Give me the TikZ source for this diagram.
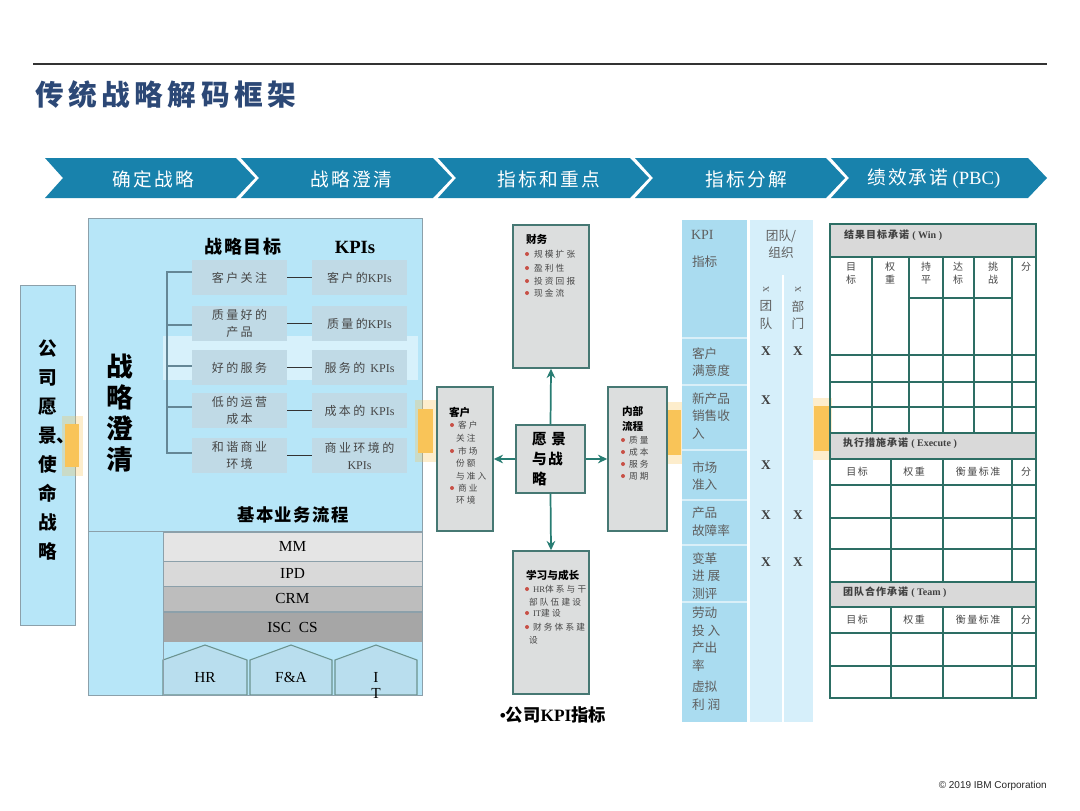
\documentclass[tikz,border=0pt]{standalone}
\usepackage{fontspec}
\setmainfont{Liberation Serif}
\newfontfamily\cjk{Noto Sans CJK SC}
\newfontfamily\sansf{Liberation Sans}
\usetikzlibrary{arrows.meta}
\definecolor{titlec}{RGB}{44,72,118}
\definecolor{chevc}{RGB}{24,130,172}
\definecolor{panelc}{RGB}{183,230,248}
\definecolor{rowc}{RGB}{192,218,230}
\definecolor{grayb}{RGB}{140,160,170}
\definecolor{orangec}{RGB}{249,196,88}
\definecolor{boxg}{RGB}{220,222,222}
\definecolor{tealb}{RGB}{70,120,115}
\definecolor{arrc}{RGB}{40,125,115}
\definecolor{dotc}{RGB}{200,80,70}
\definecolor{kpil}{RGB}{170,220,240}
\definecolor{kpir}{RGB}{214,239,250}
\definecolor{hdrc}{RGB}{217,217,217}
\definecolor{gridc}{RGB}{45,110,100}
\definecolor{housec}{RGB}{185,222,238}
\definecolor{txtg}{RGB}{70,70,70}
\definecolor{kpit}{RGB}{95,95,95}
\definecolor{brkc}{RGB}{100,135,150}
\newcommand\rowf{\cjk\fontsize{9}{12.75}\selectfont\addfontfeature{LetterSpace=20}}
\newcommand\bulf{\cjk\fontsize{6.5}{9.75}\selectfont\addfontfeature{LetterSpace=25}}
\newcommand\mtitf{\cjk\bfseries\fontsize{8}{11}\selectfont}
\newcommand\kpif{\cjk\fontsize{9.5}{13.2}\selectfont}
\newcommand\pbcf{\cjk\fontsize{7.5}{9.75}\selectfont\addfontfeature{LetterSpace=15}}
\begin{document}
\begin{tikzpicture}[x=0.75pt,y=-0.75pt,
  t/.style={inner sep=0pt,outer sep=0pt,align=center},
  tl/.style={inner sep=0pt,outer sep=0pt,align=left,anchor=west},
  chev/.style={fill=chevc},
  rowb/.style={fill=rowc,minimum width=71.25pt,minimum height=26.25pt,inner sep=0pt,align=center,font=\rowf,text=txtg},
  conn/.style={draw=black!80,line width=1pt},
  brk/.style={draw=brkc,line width=0.8pt},
  mbox/.style={draw=tealb,line width=1.1pt,fill=boxg,inner sep=0pt},
  arr/.style={draw=arrc,line width=1.3pt,-{Stealth[length=7pt,width=6.5pt]}},
  bar/.style={draw=grayb,line width=0.6pt,minimum width=194.25pt,inner sep=0pt,font=\fontsize{11.5}{13}\selectfont},
  house/.style={fill=housec,draw=tealb!80,line width=0.8pt},
  dot/.style={circle,fill=dotc,inner sep=0pt,minimum size=3pt},
  grid/.style={draw=gridc,line width=1.1pt},
  otab/.style={fill=orangec},
  oglow/.style={fill=orangec,opacity=0.3}
]
\useasboundingbox (0,0) rectangle (1080,810);
\fill[white] (0,0) rectangle (1080,810);

% top rule and title
\draw[line width=0.9pt,black!80] (33,64) -- (1047,64);
\node[tl,font={\cjk\bfseries\fontsize{21.5}{25}\selectfont\addfontfeature{LetterSpace=16}},text=titlec] (title) at (35,95) {传统战略解码框架};

% chevron banner
\foreach \s/\e in {45/236,241/433,438/630,635/826,831/1028}{
  \fill[chev] (\s,158) -- (\e,158) -- (\e+19,178) -- (\e,198) -- (\s,198) -- (\s+18,178) -- cycle;
}
\node[t,font={\cjk\fontsize{14}{16}\selectfont\addfontfeature{LetterSpace=12}},text=white] (c1) at (153,179) {确定战略};
\node[t,font={\cjk\fontsize{14}{16}\selectfont\addfontfeature{LetterSpace=12}},text=white] (c2) at (351,179) {战略澄清};
\node[t,font={\cjk\fontsize{14}{16}\selectfont\addfontfeature{LetterSpace=12}},text=white] (c3) at (549,179) {指标和重点};
\node[t,font={\cjk\fontsize{14}{16}\selectfont\addfontfeature{LetterSpace=12}},text=white] (c4) at (746,179) {指标分解};
\node[t,font={\fontsize{14}{16}\selectfont},text=white] (c5) at (934,179) {{\cjk\addfontfeature{LetterSpace=10}绩效承诺} (PBC)};

% left vertical box
\node[draw=grayb,fill=panelc,minimum width=41.25pt,minimum height=255pt,inner sep=0pt] (vbox) at (47.5,455) {};
\node[t,font={\cjk\bfseries\fontsize{14}{21.8}\selectfont}] (vtext) at (47.5,450) {公\\司\\愿\\景\rlap{、}\\使\\命\\战\\略};
\fill[oglow] (62,416) rectangle (83,476);
\fill[otab] (65,424) rectangle (79,467);

% main left panel
\node[draw=grayb,fill=panelc,minimum width=250.5pt,minimum height=357.75pt,inner sep=0pt] (panel) at (255,456.5) {};
\draw[grayb,line width=0.7pt] (88,531) -- (422,531);
\fill[white,opacity=0.45] (163,336) rectangle (418,380);
\node[t,font={\cjk\bfseries\fontsize{20}{23.25}\selectfont}] (zlcq) at (120,413) {战\\略\\澄\\清};
\node[t,font={\cjk\bfseries\fontsize{13.5}{16}\selectfont\addfontfeature{LetterSpace=10}}] (hgoal) at (243,247) {战略目标};
\node[t,font={\bfseries\fontsize{14}{16}\selectfont}] (hkpi) at (355,247) {KPIs};

\node[rowb] (l1) at (239.5,277.5) {客户关注};
\node[rowb] (l2) at (239.5,323.5) {质量好的\\产品};
\node[rowb] (l3) at (239.5,367.5) {好的服务};
\node[rowb] (l4) at (239.5,410.5) {低的运营\\成本};
\node[rowb] (l5) at (239.5,455.5) {和谐商业\\环境};
\node[rowb] (r1) at (359.5,277.5) {客户的{\rmfamily KPIs}};
\node[rowb] (r2) at (359.5,323.5) {质量的{\rmfamily KPIs}};
\node[rowb] (r3) at (359.5,367.5) {服务的 {\rmfamily KPIs}};
\node[rowb] (r4) at (359.5,410.5) {成本的 {\rmfamily KPIs}};
\node[rowb] (r5) at (359.5,455.5) {商业环境的\\{\rmfamily KPIs}};
\foreach \i in {1,...,5}{\draw[conn] (l\i) -- (r\i);}
\draw[brk] (192,272) -- (167,272) -- (167,453) -- (192,453);
\foreach \yy in {325,366,407}{\draw[brk] (167,\yy) -- (192,\yy);}

\node[t,font={\cjk\bfseries\fontsize{13}{16}\selectfont\addfontfeature{LetterSpace=8}}] (jbyw) at (293,515) {基本业务流程};
\node[bar,fill=black!10,minimum height=21.75pt] (mm) at (292.5,546.5) {MM};
\node[bar,fill=black!15,minimum height=18.75pt] (ipd) at (292.5,573.5) {IPD};
\node[bar,fill=black!26,minimum height=18.75pt] (crm) at (292.5,598.5) {CRM};
\node[bar,fill=black!35,minimum height=22.5pt] (isc) at (292.5,627) {ISC\ \ CS};
\fill[panelc] (163,642) rectangle (422,695);
\draw[house] (163,695) -- (163,660) -- (205,645) -- (247,660) -- (247,695) -- cycle;
\draw[house] (250,695) -- (250,660) -- (291,645) -- (332,660) -- (332,695) -- cycle;
\draw[house] (335,695) -- (335,660) -- (376,645) -- (417,660) -- (417,695) -- cycle;
\draw[grayb,line width=0.7pt] (163,642) -- (163,695) -- (422,695) -- (422,642);
\node[t,font={\fontsize{11.5}{13}\selectfont}] (hr) at (205,677) {HR};
\node[t,font={\fontsize{11.5}{13}\selectfont}] (fa) at (291,677) {F\&A};
\node[t,font={\fontsize{11.5}{12}\selectfont}] (it) at (376,685) {I\\T};

% orange tabs
\fill[oglow] (415,400) rectangle (436,462);
\fill[otab] (418,409) rectangle (433,453);
\fill[oglow] (665,402) rectangle (685,464);
\fill[otab] (668,410) rectangle (681,455);
\fill[oglow] (811,398) rectangle (832,460);
\fill[otab] (814,406) rectangle (829,451);

% middle: balanced scorecard
\node[mbox,minimum width=57pt,minimum height=107.25pt] (fin) at (551,296.5) {};
\node[mbox,minimum width=51.75pt,minimum height=51pt] (vis) at (550.5,459) {};
\node[mbox,minimum width=42pt,minimum height=108pt] (cust) at (465,459) {};
\node[mbox,minimum width=44.25pt,minimum height=108pt] (intp) at (637.5,459) {};
\node[mbox,minimum width=57pt,minimum height=107.25pt] (learn) at (551,622.5) {};
\draw[arr] (vis.north) -- (fin.south);
\draw[arr] (vis.west) -- (cust.east);
\draw[arr] (vis.east) -- (intp.west);
\draw[arr] (vis.south) -- (learn.north);

\node[tl,font=\mtitf] (fint) at (526,239) {财务};
\foreach \yy/\tx [count=\k] in {254/规模扩张,268/盈利性,281/投资回报,293/现金流}{
  \node[dot] (fd\k) at (527,\yy) {};
  \node[tl,font=\bulf,text=txtg] (ft\k) at (534,\yy) {\tx};
}
\node[tl,font={\cjk\bfseries\fontsize{11}{15}\selectfont\addfontfeature{LetterSpace=10}}] (vist) at (532,459) {愿 景\\与战\\略};

\node[tl,font=\mtitf] (custt) at (449,412) {客户};
\node[dot] (cd1) at (452,425) {};
\node[tl,font=\bulf,text=txtg] (ct1) at (458,425) {客户};
\node[tl,font=\bulf,text=txtg] (ct2) at (456,438) {关注};
\node[dot] (cd2) at (452,451) {};
\node[tl,font=\bulf,text=txtg] (ct3) at (458,451) {市场};
\node[tl,font=\bulf,text=txtg] (ct4) at (456,463) {份额};
\node[tl,font=\bulf,text=txtg] (ct5) at (456,476) {与准入};
\node[dot] (cd3) at (452,488) {};
\node[tl,font=\bulf,text=txtg] (ct6) at (458,488) {商业};
\node[tl,font=\bulf,text=txtg] (ct7) at (456,500) {环境};

\node[tl,font={\cjk\bfseries\fontsize{8}{11.5}\selectfont}] (intt) at (622,419) {内部\\流程};
\foreach \yy/\tx [count=\k] in {440/质量,452/成本,464/服务,476/周期}{
  \node[dot] (id\k) at (623,\yy) {};
  \node[tl,font=\bulf,text=txtg] (it\k) at (629,\yy) {\tx};
}

\node[tl,font=\mtitf] (learnt) at (526,575) {学习与成长};
\node[dot] (ld1) at (527,589) {};
\node[tl,font=\bulf,text=txtg] (lt1) at (533,589) {{\rmfamily HR}体系与干};
\node[tl,font=\bulf,text=txtg] (lt2) at (529,602) {部队伍建设};
\node[dot] (ld2) at (527,613) {};
\node[tl,font=\bulf,text=txtg] (lt3) at (533,613) {{\rmfamily IT}建设};
\node[dot] (ld3) at (527,627) {};
\node[tl,font=\bulf,text=txtg] (lt4) at (533,627) {财务体系建};
\node[tl,font=\bulf,text=txtg] (lt5) at (529,640) {设};

\node[t,font={\cjk\bfseries\fontsize{13}{16}\selectfont}] (kpilab) at (553,715) {{\rmfamily\bfseries •}公司{\rmfamily KPI}指标};

% KPI breakdown table
\fill[kpil] (682,220) rectangle (747,722);
\fill[kpir] (750,220) rectangle (813,722);
\draw[white,line width=1.5pt] (783,275) -- (783,722);
\foreach \yy in {338,385,450,500,545,602}{\draw[white!55!kpil,line width=0.8pt] (682,\yy) -- (747,\yy);}
\node[tl,font={\fontsize{10.5}{13}\selectfont},text=kpit] (kpih1) at (691,235) {KPI};
\node[tl,font=\kpif,text=kpit] (kpih2) at (692,262) {指标};
\node[t,font=\kpif,text=kpit] (kpih3) at (781,244) {团队/\\组织};
\node[t,font={\fontsize{9}{10}\selectfont},text=kpit,rotate=90] (xa) at (766,289) {x};
\node[t,font=\kpif,text=kpit] (xat) at (766,315) {团\\队};
\node[t,font={\fontsize{9}{10}\selectfont},text=kpit,rotate=90] (xb) at (798,289) {x};
\node[t,font=\kpif,text=kpit] (xbt) at (798,315) {部\\门};
\node[tl,font=\kpif,text=kpit,align=left] (k1) at (692,362) {客户\\满意度};
\node[tl,font=\kpif,text=kpit,align=left] (k2) at (692,416) {新产品\\销售收\\入};
\node[tl,font=\kpif,text=kpit,align=left] (k3) at (692,476) {市场\\准入};
\node[tl,font=\kpif,text=kpit,align=left] (k4) at (692,521.5) {产品\\故障率};
\node[tl,font=\kpif,text=kpit,align=left] (k5) at (692,576) {变革\\进 展\\测评};
\node[tl,font=\kpif,text=kpit,align=left] (k6) at (692,639) {劳动\\投 入\\产出\\率};
\node[tl,font=\kpif,text=kpit,align=left] (k7) at (692,695.5) {虚拟\\利 润};
\foreach \xx/\yy [count=\k] in {766/351,798/351,766/400,766/465,766/515,798/515,766/562,798/562}{
  \node[t,font={\bfseries\fontsize{10}{12}\selectfont},text=black!75] (xm\k) at (\xx,\yy) {X};
}

% PBC table
\fill[hdrc] (830,224) rectangle (1036,257);
\fill[hdrc] (830,433) rectangle (1036,459);
\fill[hdrc] (830,582) rectangle (1036,607);
\draw[grid] (830,224) rectangle (1036,698);
\foreach \yy in {257,355,382,407,433,459,485,518,549,582,607,633,666}{\draw[grid] (830,\yy) -- (1036,\yy);}
\foreach \xx in {872,909,943,974,1012}{\draw[grid] (\xx,257) -- (\xx,433);}
\draw[grid] (909,298) -- (1012,298);
\foreach \xx in {891,943,1012}{\draw[grid] (\xx,459) -- (\xx,582); \draw[grid] (\xx,607) -- (\xx,698);}
\node[tl,font={\cjk\bfseries\fontsize{7.5}{9}\selectfont\addfontfeature{LetterSpace=10}},text=black!75] (p1) at (844,235) {结果目标承诺 {\rmfamily ( Win )}};
\node[tl,font={\cjk\bfseries\fontsize{7.5}{9}\selectfont\addfontfeature{LetterSpace=10}},text=black!75] (p2) at (843,443) {执行措施承诺 {\rmfamily ( Execute )}};
\node[tl,font={\cjk\bfseries\fontsize{7.5}{9}\selectfont\addfontfeature{LetterSpace=10}},text=black!75] (p3) at (843,592) {团队合作承诺 {\rmfamily ( Team )}};
\foreach \xx/\tx [count=\k] in {851/目\\标,890/权\\重,926/持\\平,958/达\\标,993/挑\\战}{
  \node[t,font=\pbcf,text=txtg] (ph\k) at (\xx,273.5) {\tx};
}
\node[t,font=\pbcf,text=txtg] (ph6) at (1026,267) {分};
\foreach \yy/\s in {472/a,620/b}{
  \node[t,font=\pbcf,text=txtg] (q1\s) at (857,\yy) {目标};
  \node[t,font=\pbcf,text=txtg] (q2\s) at (914,\yy) {权重};
  \node[t,font=\pbcf,text=txtg] (q3\s) at (978,\yy) {衡量标准};
  \node[t,font=\pbcf,text=txtg] (q4\s) at (1026,\yy) {分};
}

\node[inner sep=0pt,anchor=east,font={\sansf\fontsize{7.5}{9}\selectfont},text=black!85] (copy) at (1047,786) {© 2019 IBM Corporation};
\end{tikzpicture}
\end{document}
